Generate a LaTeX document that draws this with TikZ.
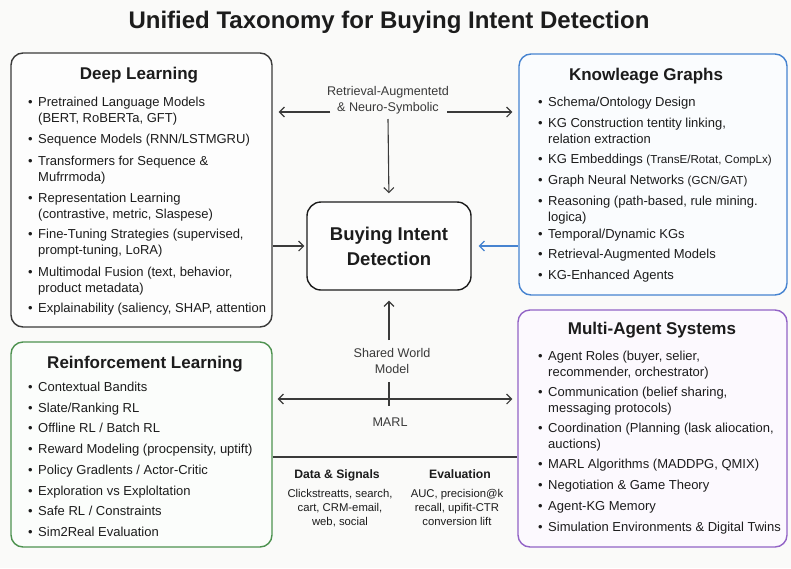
\documentclass[tikz,border=0pt]{standalone}
\usepackage{fontspec}
\setmainfont{Liberation Sans}
\usetikzlibrary{arrows.meta,calc}

\definecolor{paper}{HTML}{FAFAF9}
\definecolor{ink}{HTML}{1C1C1C}
\definecolor{linkgray}{HTML}{3A3A3A}
\definecolor{dlc}{HTML}{3A3A3A}
\definecolor{kgc}{HTML}{4683D0}
\definecolor{rlc}{HTML}{4D924F}
\definecolor{masc}{HTML}{9263C6}
\definecolor{dlfill}{HTML}{FDFDFD}
\definecolor{kgfill}{HTML}{FAFCFE}
\definecolor{rlfill}{HTML}{FBFDFB}
\definecolor{masfill}{HTML}{FCF9FE}

% bullet hung to the left of an item
\newcommand\bul{\llap{\textbullet\hspace{5.5pt}}}
% smaller type for parenthetical model lists
\newcommand\smallpar[1]{{\fontsize{11.6}{15.8}\selectfont #1}}

\begin{document}
\begin{tikzpicture}[x=1pt,y=-1pt,
  panel/.style={draw, rounded corners=12pt, line width=1.4pt, inner sep=0pt},
  hd/.style={anchor=base, inner sep=0pt, text=ink,
    font=\fontsize{17}{20}\selectfont\bfseries},
  itm/.style={anchor=north west, align=left, inner sep=0pt, yshift=11.06pt,
    text=ink, font=\fontsize{13}{15.8}\selectfont},
  lbl/.style={align=center, inner sep=0pt, anchor=north, yshift=10pt,
    text=linkgray, font=\fontsize{12.6}{15.5}\selectfont},
  subhd/.style={anchor=base, inner sep=0pt, text=ink,
    font=\fontsize{12.2}{14}\selectfont\bfseries},
  subtx/.style={align=center, anchor=north, inner sep=0pt, yshift=9.8pt,
    text=ink, font=\fontsize{11.3}{14.2}\selectfont},
  conn/.style={line width=1.1pt, draw=linkgray,
    -{Straight Barb[length=5pt,width=10pt,line width=1.1pt]}},
]
% canvas
\path[fill=paper] (0,0) rectangle (791,568);
\useasboundingbox (0,0) rectangle (791,568);

% title
\node[anchor=base, inner sep=0pt, text=ink, font=\fontsize{24}{28}\selectfont\bfseries]
  (title) at (389,28) {Unified Taxonomy for Buying Intent Detection};

% ---------- panels ----------
\node[panel, draw=dlc, fill=dlfill, minimum width=261pt, minimum height=274pt]
  (dl) at (141.5,190) {};
\node[panel, draw=kgc, fill=kgfill, minimum width=268pt, minimum height=241pt]
  (kg) at (653,174.5) {};
\node[panel, draw=rlc, fill=rlfill, minimum width=261pt, minimum height=205pt]
  (rl) at (141.5,444.5) {};
\node[panel, draw=masc, fill=masfill, minimum width=269pt, minimum height=237pt]
  (mas) at (652.5,428.5) {};

% central node
\node[draw=ink, line width=1.4pt, rounded corners=14pt, fill=white!60!paper,
  minimum width=164pt, minimum height=88pt, align=center, text=ink,
  font=\fontsize{18.5}{25}\selectfont\bfseries]
  (core) at (389,246) {Buying Intent\\Detection};

% ---------- Deep Learning ----------
\node[hd] (dlh) at (139,79) {Deep Learning};
\node[itm] (dl1) at (38,106) {\strut\bul Pretrained Language Models\\(BERT, RoBERTa, GFT)};
\node[itm] (dl2) at (38,143) {\strut\bul Sequence Models (RNN/LSTMGRU)};
\node[itm] (dl3) at (38,165) {\strut\bul Transformers for Sequence \&\\Mufrrmoda)};
\node[itm] (dl4) at (38,202) {\strut\bul Representation Learning\\(contrastive, metric, Slaspese)};
\node[itm] (dl5) at (38,238) {\strut\bul Fine-Tuning Strategies (supervised,\\prompt-tuning, LoRA)};
\node[itm] (dl6) at (38,276) {\strut\bul Multimodal Fusion (text, behavior,\\product metadata)};
\node[itm] (dl7) at (38,312) {\strut\bul Explainability (saliency, SHAP, attention};

% ---------- Knowledge Graphs ----------
\node[hd] (kgh) at (646,80) {Knowleage Graphs};
\node[itm] (kg1) at (548,106) {\strut\bul Schema/Ontology Design};
\node[itm] (kg2) at (548,127) {\strut\bul KG Construction tentity linking,\\relation extraction};
\node[itm] (kg3) at (548,163) {\strut\bul KG Embeddings \smallpar{(TransE/Rotat, CompLx)}};
\node[itm] (kg4) at (548,184) {\strut\bul Graph Neural Networks \smallpar{(GCN/GAT)}};
\node[itm] (kg5) at (548,205) {\strut\bul Reasoning (path-based, rule mining.\\logica)};
\node[itm] (kg6) at (548,238) {\strut\bul Temporal/Dynamic KGs};
\node[itm] (kg7) at (548,258) {\strut\bul Retrieval-Augmented Models};
\node[itm] (kg8) at (548,279) {\strut\bul KG-Enhanced Agents};

% ---------- Reinforcement Learning ----------
\node[hd] (rlh) at (145,368) {Reinforcement Learning};
\node[itm] (rl1) at (38,391) {\strut\bul Contextual Bandits};
\node[itm] (rl2) at (38,412) {\strut\bul Slate/Ranking RL};
\node[itm] (rl3) at (38,432) {\strut\bul Offline RL / Batch RL};
\node[itm] (rl4) at (38,453) {\strut\bul Reward Modeling (procpensity, uptift)};
\node[itm] (rl5) at (38,474) {\strut\bul Policy Gradlents / Actor-Critic};
\node[itm] (rl6) at (38,495) {\strut\bul Exploration vs Exploltation};
\node[itm] (rl7) at (38,515) {\strut\bul Safe RL / Constraints};
\node[itm] (rl8) at (38,536) {\strut\bul Sim2Real Evaluation};

% ---------- Multi-Agent Systems ----------
\node[hd] (mash) at (652,334) {Multi-Agent Systems};
\node[itm] (mas1) at (548,360) {\strut\bul Agent Roles (buyer, selier,\\recommender, orchestrator)};
\node[itm] (mas2) at (548,396) {\strut\bul Communication (belief sharing,\\messaging protocols)};
\node[itm] (mas3) at (548,432) {\strut\bul Coordination (Planning (lask aliocation,\\auctions)};
\node[itm] (mas4) at (548,468) {\strut\bul MARL Algorithms (MADDPG, QMIX)};
\node[itm] (mas5) at (548,489) {\strut\bul Negotiation \& Game Theory};
\node[itm] (mas6) at (548,510) {\strut\bul Agent-KG Memory};
\node[itm] (mas7) at (548,531) {\strut\bul Simulation Environments \& Digital Twins};

% ---------- upper links ----------
\node[lbl] (ra) at (388,94.5) {\strut Retrieval-Augmentetd\\\& Neuro-Symbolic};
\coordinate (raL) at (330,112);
\coordinate (raR) at (447,112);
\coordinate (raD) at (388,119);
\draw[conn, shorten >=6pt] (raL) -- (dl.east |- raL);
\draw[conn, shorten >=6pt] (raR) -- (kg.west |- raR);
\draw[conn, shorten >=8pt] (raD) -- (core.north);

\draw[conn, shorten >=2pt] (dl.east |- core.west) -- (core.west);
\draw[conn, draw=kgc, shorten >=7pt] (kg.west |- core.east) -- (core.east);

% ---------- lower links ----------
\node[lbl] (swm) at (392,356.5) {\strut Shared World\\Model};
\coordinate (swU) at (389,340);
\draw[conn, shorten >=10pt] (swU) -- (core.south);

\coordinate (tickT) at (389,382);
\coordinate (tickB) at (389,406);
\draw[line width=1.1pt, draw=linkgray] (tickT) -- (tickB);
\coordinate (marlY) at (389,399);
\draw[line width=1.1pt, draw=linkgray,
  {Straight Barb[length=5pt,width=10pt,line width=1.1pt]}-{Straight Barb[length=5pt,width=10pt,line width=1.1pt]},
  shorten >=5pt, shorten <=5pt] (rl.east |- marlY) -- (mas.west |- marlY);
\node[anchor=base, inner sep=0pt, text=linkgray, font=\fontsize{12.6}{15}\selectfont]
  (marl) at (390,426.5) {MARL};

% divider between the two bottom panels
\coordinate (divY) at (389,457);
\draw[line width=1.1pt, draw=linkgray] (rl.east |- divY) -- (mas.west |- divY);

% data and evaluation notes
\node[subhd] (dsh) at (337,478) {Data \& Signals};
\node[subtx] (dst) at (340,497) {\strut Clickstreatts, search,\\cart, CRM-email,\\web, social};
\node[subhd] (evh) at (460,478) {Evaluation};
\node[subtx] (evt) at (457,497) {\strut AUC, precision@k\\recall, upifit-CTR\\conversion lift};
\end{tikzpicture}
\end{document}
